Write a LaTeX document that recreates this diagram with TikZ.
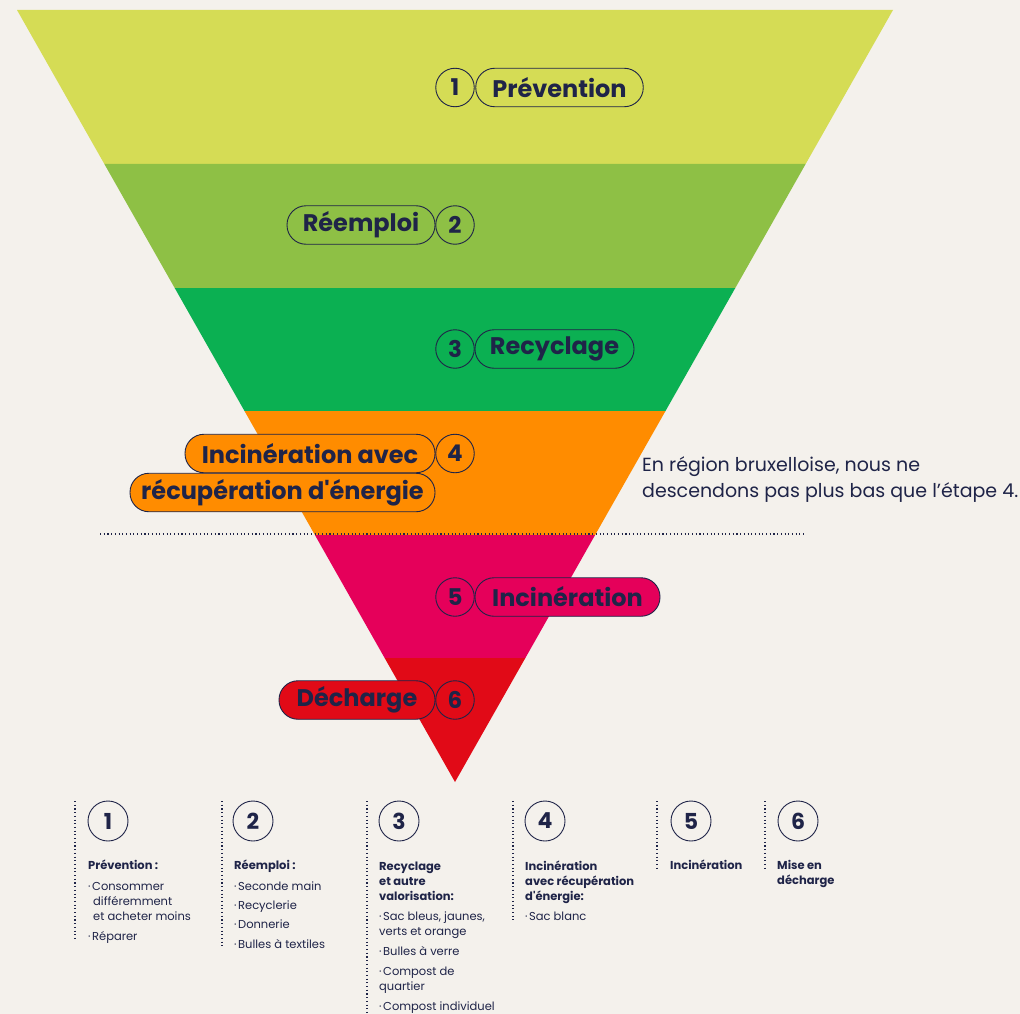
\documentclass[tikz,border=0pt]{standalone}
\usepackage{fontspec}
\setmainfont{Poppins}[Ligatures=TeXOff]
\definecolor{bg}{HTML}{F4F1EC}
\definecolor{navy}{HTML}{1F2448}
\definecolor{cA}{HTML}{D5DC55}
\definecolor{cB}{HTML}{8EC045}
\definecolor{cC}{HTML}{0BB052}
\definecolor{cD}{HTML}{FF8C00}
\definecolor{cE}{HTML}{E5005A}
\definecolor{cF}{HTML}{E10A17}
\tikzset{
  x=1pt,y=-1pt,
  pill/.style={draw=navy,line width=0.9pt,rounded corners=19pt,minimum height=38.5pt,inner sep=0pt,text=navy,font=\bfseries\fontsize{24}{26}\selectfont},
  numc/.style={draw=navy,line width=0.9pt,circle,minimum size=38.5pt,inner sep=0pt,text=navy,font=\bfseries\fontsize{23}{26}\selectfont},
  bnum/.style={draw=navy,line width=0.9pt,circle,minimum size=40pt,inner sep=0pt,text=navy,font=\bfseries\fontsize{22}{24}\selectfont},
  colline/.style={draw=navy,line width=1.1pt,dash pattern=on 1.1pt off 2.6pt},
  hd/.style={anchor=base west,inner sep=0pt,text=navy,font=\bfseries\fontsize{11.5}{13}\selectfont},
  it/.style={anchor=base west,inner sep=0pt,text=navy,font=\fontsize{11.5}{13}\selectfont},
}
\newcommand{\bul}{·\hspace{1.5pt}}
\begin{document}
\begin{tikzpicture}
\fill[bg] (0,0) rectangle (1020,1014);
\useasboundingbox (0,0) rectangle (1020,1014);
% bands
\fill[cA] (17,10) -- (893,10) -- (805.65,164) -- (104.35,164) -- cycle;
\fill[cB] (104.35,164) -- (805.65,164) -- (735.3,288) -- (174.7,288) -- cycle;
\fill[cC] (174.7,288) -- (735.3,288) -- (665.5,411) -- (244.5,411) -- cycle;
\fill[cD] (244.5,411) -- (665.5,411) -- (595.1,535) -- (314.9,535) -- cycle;
\fill[cE] (314.9,535) -- (595.1,535) -- (525.35,658) -- (384.65,658) -- cycle;
\fill[cF] (384.65,658) -- (525.35,658) -- (455,782) -- cycle;
% dotted separator
\coordinate (sepL) at (100,534);
\coordinate (sepR) at (804,534);
\draw[colline] (sepL) -- (sepR);
% labels
\node[numc,fill=cA] (n1) at (455,87.5) {1};
\node[pill,fill=cA,minimum width=167.5pt] (p1) at (559.5,87.5) {Prévention};
\node[numc,fill=cB] (n2) at (455,225) {2};
\node[pill,fill=cB,minimum width=148pt] (p2) at (361,225) {Réemploi};
\node[numc,fill=cC] (n3) at (455,349) {3};
\node[pill,fill=cC,minimum width=159pt] (p3) at (554.5,349) {Recyclage};
\node[pill,fill=cD,minimum width=305pt] (p4b) at (282.5,492.5) {récupération d'énergie};
\node[pill,fill=cD,minimum width=250pt] (p4a) at (310,453.5) {Incinération avec};
\node[numc,fill=cD] (n4) at (455,453.5) {4};
\node[numc,fill=cE] (n5) at (455,597) {5};
\node[pill,fill=cE,minimum width=185pt] (p5) at (567.5,597) {Incinération};
\node[numc,fill=cF] (n6) at (455,700) {6};
\node[pill,fill=cF,minimum width=156pt] (p6) at (357,700) {Décharge};
% note
\node[anchor=base west,inner sep=0pt,text=navy,font=\fontsize{19}{26}\selectfont,align=left] (note) at (642,497) {En région bruxelloise, nous ne\\descendons pas plus bas que l’étape 4.};
% bottom columns
\coordinate (l1a) at (75,801); \coordinate (l1b) at (75,941);
\coordinate (l2a) at (222,801); \coordinate (l2b) at (222,947);
\coordinate (l3a) at (367,801); \coordinate (l3b) at (367,1014);
\coordinate (l4a) at (513,801); \coordinate (l4b) at (513,920);
\coordinate (l5a) at (657,801); \coordinate (l5b) at (657,868);
\coordinate (l6a) at (765,801); \coordinate (l6b) at (765,868);
\foreach \i in {1,...,6} {\draw[colline] (l\i a) -- (l\i b);}
\node[bnum] (b1) at (108,821) {1};
\node[bnum] (b2) at (253,821) {2};
\node[bnum] (b3) at (399,821) {3};
\node[bnum] (b4) at (545,821) {4};
\node[bnum] (b5) at (691,821) {5};
\node[bnum] (b6) at (798,821) {6};
% col 1
\node[hd] (t11) at (88,869.5) {Prévention :};
\node[it] (t12) at (88,890) {\bul Consommer};
\node[it] (t13) at (93,905) {différemment};
\node[it] (t14) at (93,920) {et acheter moins};
\node[it] (t15) at (88,940) {\bul Réparer};
% col 2
\node[hd] (t21) at (234,869.5) {Réemploi :};
\node[it] (t22) at (234,890) {\bul Seconde main};
\node[it] (t23) at (234,909.5) {\bul Recyclerie};
\node[it] (t24) at (234,928.5) {\bul Donnerie};
\node[it] (t25) at (234,948) {\bul Bulles à textiles};
% col 3
\node[hd] (t31) at (379,870) {Recyclage};
\node[hd] (t32) at (379,885.5) {et autre};
\node[hd] (t33) at (379,900.5) {valorisation:};
\node[it] (t34) at (379,920.5) {\bul Sac bleus, jaunes,};
\node[it] (t35) at (379,935.5) {verts et orange};
\node[it] (t36) at (379,955.5) {\bul Bulles à verre};
\node[it] (t37) at (379,975.5) {\bul Compost de};
\node[it] (t38) at (379,990.5) {quartier};
\node[it] (t39) at (379,1010) {\bul Compost individuel};
% col 4
\node[hd] (t41) at (525,870) {Incinération};
\node[hd] (t42) at (525,885.5) {avec récupération};
\node[hd] (t43) at (525,900.5) {d'énergie:};
\node[it] (t44) at (525,920.5) {\bul Sac blanc};
% col 5
\node[hd] (t51) at (670,869.5) {Incinération};
% col 6
\node[hd] (t61) at (777,869.5) {Mise en};
\node[hd] (t62) at (777,884.5) {décharge};
\end{tikzpicture}
\end{document}
